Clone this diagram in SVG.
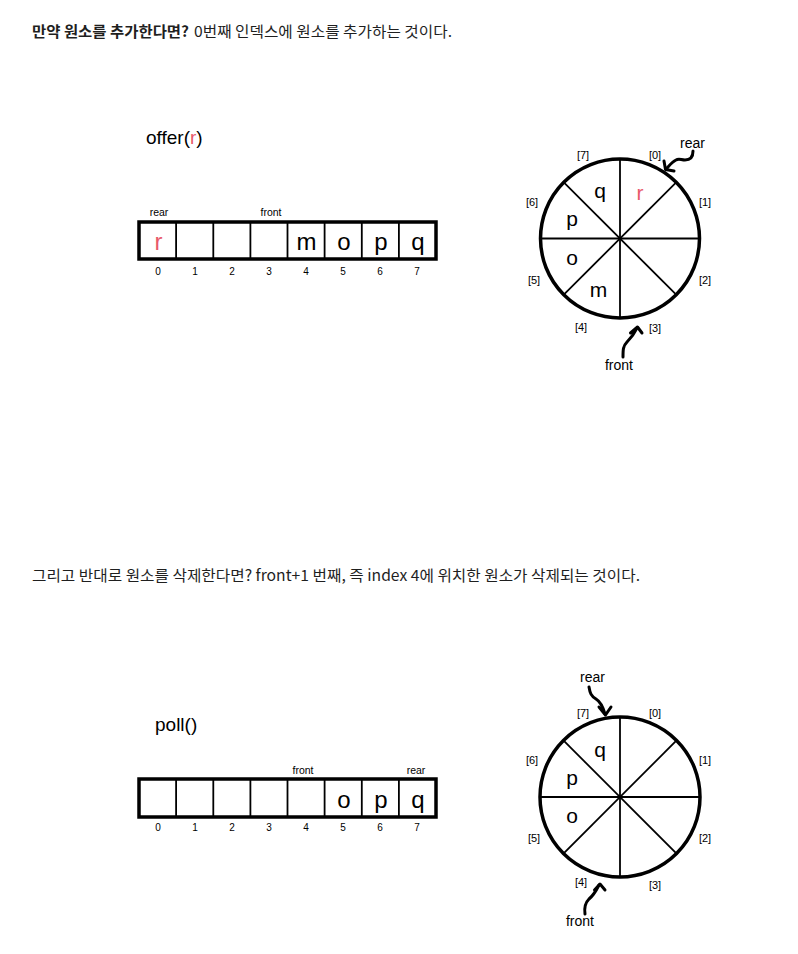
<svg xmlns="http://www.w3.org/2000/svg" width="798" height="954" viewBox="0 0 798 954">
<style>
.ko{font-family:"Noto Sans CJK KR","Noto Sans",sans-serif;font-size:15px;fill:#1f1f1f}
.b{font-weight:bold}
.t{font-family:"Liberation Sans",Arial,sans-serif;fill:#000}
.title{font-size:19px}
.cell{font-size:24px;text-anchor:middle}
.cl{font-size:21px;text-anchor:middle}
.idx{font-size:10px;text-anchor:middle}
.ptr{font-size:10.5px;text-anchor:middle}
.slot{font-size:11px;text-anchor:middle}
.lab{font-size:14px;text-anchor:middle}
.red{fill:#e8596a}
.outer{fill:#fff;stroke:#000;stroke-width:3.5}
.div{stroke:#000;stroke-width:1.8}
.ring{fill:#fff;stroke:#000;stroke-width:3.5}
.arr{fill:none;stroke:#000;stroke-width:3;stroke-linecap:round;stroke-linejoin:round}
</style>
<rect width="798" height="954" fill="#fff"/>

<g id="heading1">
<text class="ko b" x="32" y="37" textLength="157" lengthAdjust="spacingAndGlyphs">만약 원소를 추가한다면?</text>
<text class="ko" x="194" y="37" textLength="258" lengthAdjust="spacingAndGlyphs">0번째 인덱스에 원소를 추가하는 것이다.</text>
</g>

<g id="heading2">
<text class="ko" x="32" y="581" textLength="608" lengthAdjust="spacingAndGlyphs">그리고 반대로 원소를 삭제한다면? front+1 번째, 즉 index 4에 위치한 원소가 삭제되는 것이다.</text>
</g>

<!-- top: offer(r) -->
<g id="offer-title">
<text class="t title" x="146" y="144">offer(<tspan class="red">r</tspan>)</text>
</g>

<g id="array1">
<rect class="outer" x="139" y="222" width="297" height="37"/>
<line class="div" x1="176.1" y1="222" x2="176.1" y2="259"/>
<line class="div" x1="213.3" y1="222" x2="213.3" y2="259"/>
<line class="div" x1="250.4" y1="222" x2="250.4" y2="259"/>
<line class="div" x1="287.5" y1="222" x2="287.5" y2="259"/>
<line class="div" x1="324.6" y1="222" x2="324.6" y2="259"/>
<line class="div" x1="361.8" y1="222" x2="361.8" y2="259"/>
<line class="div" x1="398.9" y1="222" x2="398.9" y2="259"/>
<text class="t cell red" x="158.5" y="250">r</text>
<text class="t cell" x="306.5" y="250">m</text>
<text class="t cell" x="344" y="250">o</text>
<text class="t cell" x="381" y="250">p</text>
<text class="t cell" x="418" y="250">q</text>
<text class="t ptr" x="159" y="216">rear</text>
<text class="t ptr" x="271" y="216">front</text>
<text class="t idx" x="158" y="275">0</text>
<text class="t idx" x="195" y="275">1</text>
<text class="t idx" x="232" y="275">2</text>
<text class="t idx" x="269" y="275">3</text>
<text class="t idx" x="306" y="275">4</text>
<text class="t idx" x="343" y="275">5</text>
<text class="t idx" x="380" y="275">6</text>
<text class="t idx" x="417" y="275">7</text>
</g>

<g id="circle1">
<circle class="ring" cx="620" cy="238.5" r="79.5"/>
<line class="div" x1="540.5" y1="238.5" x2="699.5" y2="238.5"/>
<line class="div" x1="620" y1="159" x2="620" y2="318"/>
<line class="div" x1="563.8" y1="182.3" x2="676.2" y2="294.7"/>
<line class="div" x1="563.8" y1="294.7" x2="676.2" y2="182.3"/>
<text class="t cl" x="600" y="198">q</text>
<text class="t cl red" x="640" y="200">r</text>
<text class="t cl" x="572" y="226">p</text>
<text class="t cl" x="572" y="265">o</text>
<text class="t cl" x="598.5" y="297">m</text>
<text class="t slot" x="583" y="159">[7]</text>
<text class="t slot" x="655" y="159">[0]</text>
<text class="t slot" x="532" y="206">[6]</text>
<text class="t slot" x="705" y="206">[1]</text>
<text class="t slot" x="534" y="284">[5]</text>
<text class="t slot" x="705" y="284">[2]</text>
<text class="t slot" x="581" y="331">[4]</text>
<text class="t slot" x="655" y="332">[3]</text>
<text class="t lab" x="692.5" y="148">rear</text>
<text class="t lab" x="619" y="370">front</text>
</g>

<!-- bottom: poll() -->
<g id="poll-title">
<text class="t title" x="155" y="731">poll()</text>
</g>

<g id="array2">
<rect class="outer" x="139" y="779" width="297" height="38"/>
<line class="div" x1="176.1" y1="779" x2="176.1" y2="817"/>
<line class="div" x1="213.3" y1="779" x2="213.3" y2="817"/>
<line class="div" x1="250.4" y1="779" x2="250.4" y2="817"/>
<line class="div" x1="287.5" y1="779" x2="287.5" y2="817"/>
<line class="div" x1="324.6" y1="779" x2="324.6" y2="817"/>
<line class="div" x1="361.8" y1="779" x2="361.8" y2="817"/>
<line class="div" x1="398.9" y1="779" x2="398.9" y2="817"/>
<text class="t cell" x="344" y="808">o</text>
<text class="t cell" x="381" y="808">p</text>
<text class="t cell" x="418" y="808">q</text>
<text class="t ptr" x="303" y="774">front</text>
<text class="t ptr" x="416" y="774">rear</text>
<text class="t idx" x="158" y="831">0</text>
<text class="t idx" x="195" y="831">1</text>
<text class="t idx" x="232" y="831">2</text>
<text class="t idx" x="269" y="831">3</text>
<text class="t idx" x="306" y="831">4</text>
<text class="t idx" x="343" y="831">5</text>
<text class="t idx" x="380" y="831">6</text>
<text class="t idx" x="417" y="831">7</text>
</g>

<g id="circle2">
<circle class="ring" cx="620" cy="797" r="80"/>
<line class="div" x1="540" y1="797" x2="700" y2="797"/>
<line class="div" x1="620" y1="717" x2="620" y2="877"/>
<line class="div" x1="563.4" y1="740.4" x2="676.6" y2="853.6"/>
<line class="div" x1="563.4" y1="853.6" x2="676.6" y2="740.4"/>
<text class="t cl" x="600" y="757">q</text>
<text class="t cl" x="572" y="785">p</text>
<text class="t cl" x="572" y="823">o</text>
<text class="t slot" x="583" y="716.5">[7]</text>
<text class="t slot" x="655" y="716.5">[0]</text>
<text class="t slot" x="532" y="764">[6]</text>
<text class="t slot" x="705" y="764">[1]</text>
<text class="t slot" x="534" y="842">[5]</text>
<text class="t slot" x="705" y="842">[2]</text>
<text class="t slot" x="581" y="886">[4]</text>
<text class="t slot" x="655" y="889">[3]</text>
<text class="t lab" x="592.5" y="682">rear</text>
<text class="t lab" x="580" y="926">front</text>
</g>

<g id="connectors">
<path class="arr" d="M693,151 C693,157 690,160 685,160 C681,160 679,158 676,160 C672,162 669,166 666,169"/>
<path class="arr" d="M664,161 L665.5,169.5 L674,171"/>
<path class="arr" d="M623,357 C623,350 623,346 627,342 C631,338 634,334 637,328"/>
<path class="arr" d="M630.5,333 L637.5,327 L642,333"/>
<path class="arr" d="M589,687 C590,693 591,696 596,699 C601,702 603,707 605,714"/>
<path class="arr" d="M599,707 L605.5,715 L611,707"/>
<path class="arr" d="M585,914 C584,907 585,903 589,899 C594,895 596,891 599,885"/>
<path class="arr" d="M594.5,890 L600,884 L605,890"/>
</g>
</svg>
